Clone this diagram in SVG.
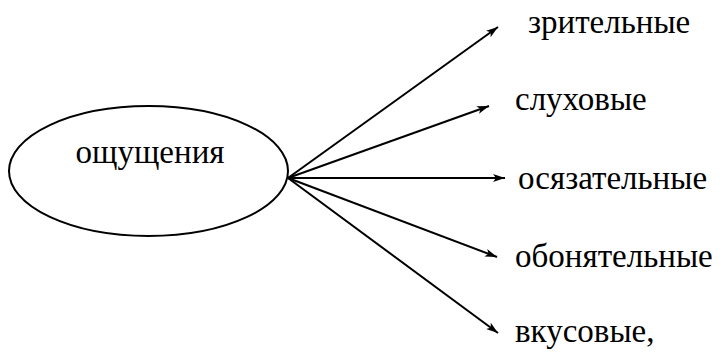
<svg xmlns="http://www.w3.org/2000/svg" width="725" height="353" viewBox="0 0 725 353">
<defs>
<marker id="ah" markerWidth="12" markerHeight="8" refX="12" refY="4" orient="auto" markerUnits="userSpaceOnUse">
<path d="M0,0 L12,4 L0,8 L3,4 Z" fill="#000"/>
</marker>
</defs>
<g id="node-main">
<ellipse cx="148.5" cy="171" rx="139.5" ry="65" fill="#fff" stroke="#000" stroke-width="2"/>
<text x="150" y="163" text-anchor="middle" font-family="Tinos, 'Liberation Serif', 'Times New Roman', serif" font-size="33">ощущения</text>
</g>
<g id="node-1"><text x="528" y="33" font-family="Tinos, 'Liberation Serif', 'Times New Roman', serif" font-size="33">зрительные</text></g>
<g id="node-2"><text x="515" y="110" font-family="Tinos, 'Liberation Serif', 'Times New Roman', serif" font-size="33">слуховые</text></g>
<g id="node-3"><text x="518" y="189" font-family="Tinos, 'Liberation Serif', 'Times New Roman', serif" font-size="33">осязательные</text></g>
<g id="node-4"><text x="515" y="267" font-family="Tinos, 'Liberation Serif', 'Times New Roman', serif" font-size="33">обонятельные</text></g>
<g id="node-5"><text x="515" y="342" font-family="Tinos, 'Liberation Serif', 'Times New Roman', serif" font-size="33">вкусовые,</text></g>
<g id="connectors" stroke="#000" stroke-width="2" fill="none">
<line x1="288" y1="178" x2="498" y2="27" marker-end="url(#ah)"/>
<line x1="288" y1="178" x2="489" y2="106" marker-end="url(#ah)"/>
<line x1="288" y1="178" x2="505" y2="178" marker-end="url(#ah)"/>
<line x1="288" y1="178" x2="497" y2="257" marker-end="url(#ah)"/>
<line x1="288" y1="178" x2="498" y2="333" marker-end="url(#ah)"/>
</g>
</svg>
